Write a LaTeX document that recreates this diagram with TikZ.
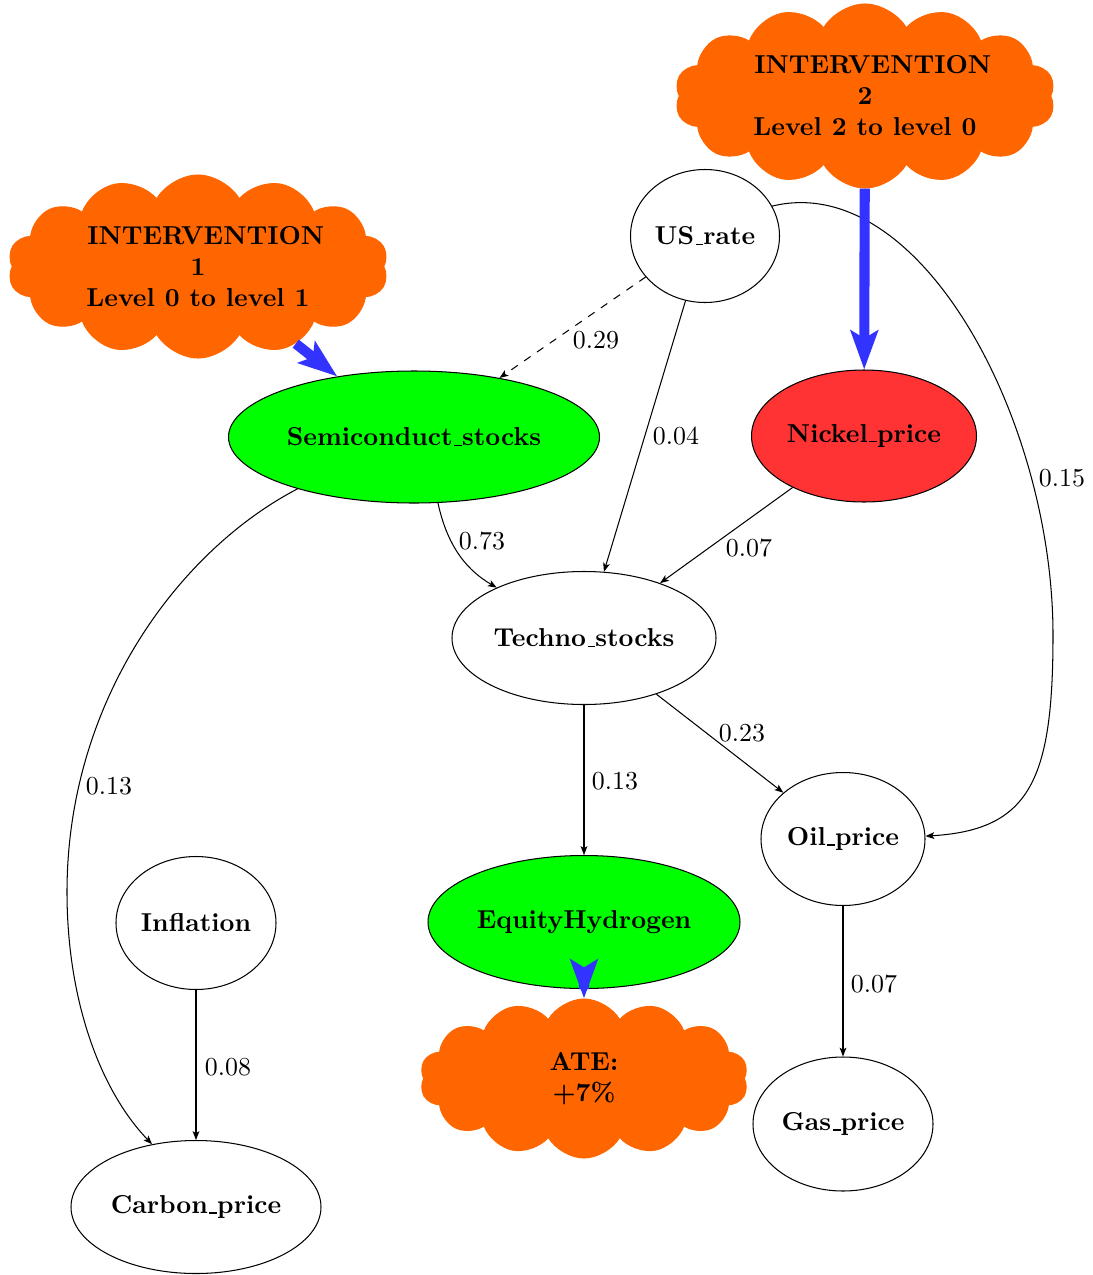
\documentclass[tikz,border=0pt]{standalone}
\usetikzlibrary{shapes.geometric,shapes.symbols,arrows.meta}
\definecolor{cloudorange}{RGB}{255,102,0}
\definecolor{nodegreen}{RGB}{0,255,0}
\definecolor{nodered}{RGB}{255,51,51}
\definecolor{intblue}{RGB}{51,51,255}
% baseline underscore: a short rule sitting on the baseline
\newcommand\uscore{\leavevmode\kern.06em\vbox{\hrule width.3em}}
\tikzset{
  var/.style={ellipse, draw=black, inner sep=0pt, font=\bfseries, align=center},
  interv/.style={cloud, cloud puffs=14, cloud puff arc=120, aspect=2,
    cloud ignores aspect, fill=cloudorange, draw=cloudorange,
    inner sep=0pt, font=\bfseries, align=center},
  edge/.style={draw=black, line width=0.4pt,
    -{Stealth[length=3.4pt,width=2.6pt,inset=0.8pt]}},
  doarrow/.style={draw=intblue, line width=3.9pt,
    -{Stealth[length=15pt,width=10.5pt,inset=3pt]}},
  wlabel/.style={inner sep=0pt, font=\normalsize}
}
\begin{document}
\begin{tikzpicture}[x=0.3861pt, y=-0.3861pt]
  \useasboundingbox (0,0) rectangle (1092,1275);

  % variables
  \node[var, minimum width=149*0.3861pt, minimum height=133*0.3861pt] (us) at (705,236) {US\uscore{}rate};
  \node[var, fill=nodegreen, minimum width=371*0.3861pt, minimum height=132*0.3861pt] (semi) at (414,437) {Semiconduct\uscore{}stocks};
  \node[var, fill=nodered, minimum width=225*0.3861pt, minimum height=132*0.3861pt] (nickel) at (864,436) {Nickel\uscore{}price};
  \node[var, minimum width=264*0.3861pt, minimum height=133*0.3861pt] (techno) at (584,638) {Techno\uscore{}stocks};
  \node[var, minimum width=164*0.3861pt, minimum height=133*0.3861pt] (oil) at (843,839) {Oil\uscore{}price};
  \node[var, minimum width=160*0.3861pt, minimum height=133*0.3861pt] (infl) at (196,923) {Inflation};
  \node[var, fill=nodegreen, minimum width=312*0.3861pt, minimum height=133*0.3861pt] (equity) at (584,922) {EquityHydrogen};
  \node[var, minimum width=180*0.3861pt, minimum height=134*0.3861pt] (gas) at (843,1124) {Gas\uscore{}price};
  \node[var, minimum width=250*0.3861pt, minimum height=133*0.3861pt] (carbon) at (196,1207) {Carbon\uscore{}price};

  % interventions and effect
  \node[interv, minimum width=380*0.3861pt, minimum height=183*0.3861pt] (int1) at (198,266.5)
    {\hspace*{6pt}INTERVENTION\\1\\Level 0 to level 1};
  \node[interv, minimum width=380*0.3861pt, minimum height=184*0.3861pt] (int2) at (865,96)
    {\hspace*{6pt}INTERVENTION\\2\\Level 2 to level 0};
  \node[interv, minimum width=328*0.3861pt, minimum height=159*0.3861pt] (ate) at (584,1078.5)
    {ATE:\\+7\%};

  % weighted causal edges
  \draw[edge, dashed] (us) -- (semi);
  \draw[edge] (us) -- (techno);
  \draw[edge] (nickel) -- (techno);
  \draw[edge] (semi.-70) .. controls (448,550) and (470,572) .. (techno.150);
  \draw[edge] (us.24) .. controls (920,170) and (1053,420) .. (1053,635)
              .. controls (1053,780) and (1030,830) .. (oil.2);
  \draw[edge] (semi.204.5) .. controls (180,550) and (67,700) .. (67,892)
              .. controls (67,1000) and (100,1090) .. (carbon.125);
  \draw[edge] (techno) -- (equity);
  \draw[edge] (techno) -- (oil);
  \draw[edge] (oil) -- (gas);
  \draw[edge] (infl) -- (carbon);

  % edge weights
  \node[wlabel] (w1) at (596,340) {0.29};
  \node[wlabel] (w2) at (676,436) {0.04};
  \node[wlabel] (w3) at (1062,478) {0.15};
  \node[wlabel] (w4) at (749,548) {0.07};
  \node[wlabel] (w5) at (482,541) {0.73};
  \node[wlabel] (w6) at (109,786) {0.13};
  \node[wlabel] (w7) at (615,781) {0.13};
  \node[wlabel] (w8) at (742,733) {0.23};
  \node[wlabel] (w9) at (874,984) {0.07};
  \node[wlabel] (w10) at (228,1067) {0.08};

  % interventions
  \draw[doarrow] (int1) -- (semi);
  \draw[doarrow] (int2) -- (nickel);
  \draw[doarrow] (equity) -- (ate);
\end{tikzpicture}
\end{document}
